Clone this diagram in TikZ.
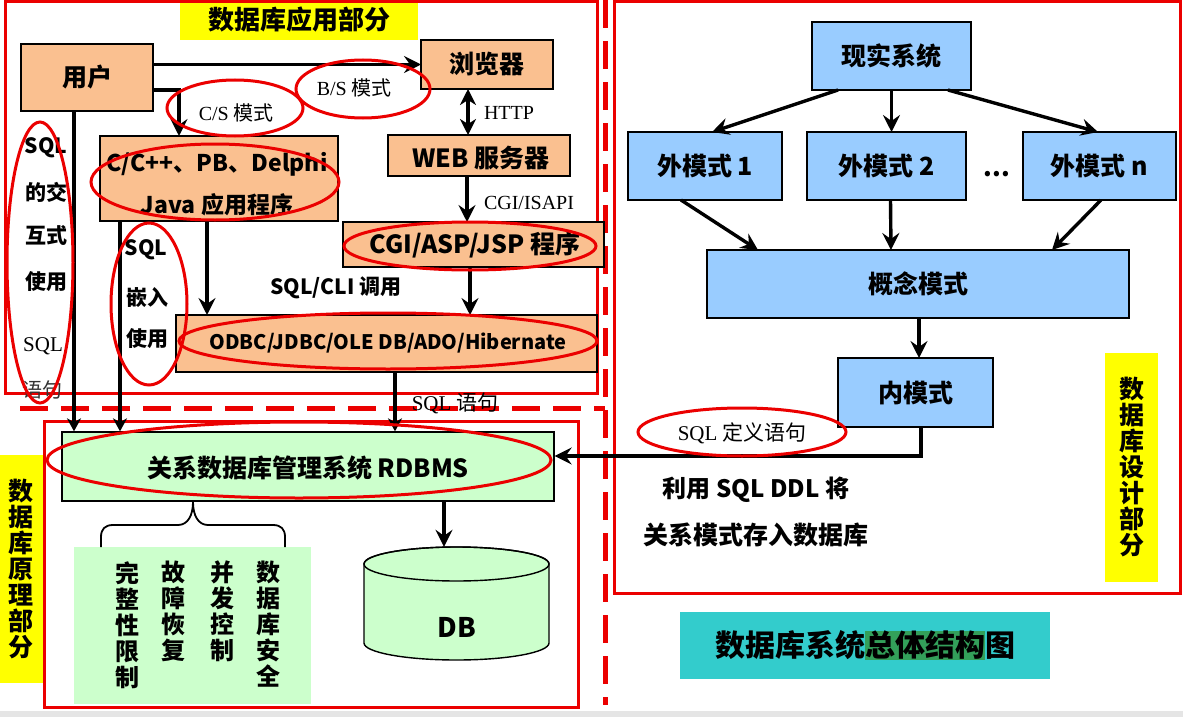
\documentclass[tikz,border=0pt]{standalone}
\usepackage{fontspec}
\setmainfont{Noto Sans CJK SC}
\newfontfamily\serifl{Liberation Serif}
\usetikzlibrary{arrows.meta,shapes.geometric}
\definecolor{peach}{RGB}{250,192,144}
\definecolor{lblue}{RGB}{153,204,255}
\definecolor{lgreen}{RGB}{204,255,204}
\definecolor{teal1}{RGB}{51,204,204}
\definecolor{hlgreen}{RGB}{51,160,90}
\definecolor{red1}{RGB}{235,0,0}
\definecolor{ylw}{RGB}{255,255,0}
\newcommand\myfs[2]{\fontsize{#1}{#2}\selectfont}
\tikzset{
  obox/.style={draw=black, line width=1.3pt, fill=peach, inner sep=0pt, outer sep=0pt, font=\bfseries\myfs{24}{29}},
  bbox/.style={draw=black, line width=1.5pt, fill=lblue, inner sep=0pt, outer sep=0pt, font=\bfseries\myfs{25}{30}},
  arr/.style={line width=3.4pt, -{Stealth[length=17pt,width=17pt,inset=6pt]}},
  sarr/.style={line width=3.2pt, -{Stealth[length=13pt,width=14pt,inset=4pt]}},
  darr/.style={line width=3.4pt, {Stealth[length=16pt,width=16pt,inset=5pt]}-{Stealth[length=16pt,width=16pt,inset=5pt]}},
  redell/.style={draw=red1, line width=3pt, ellipse, inner sep=0pt},
  redbox/.style={draw=red1, line width=3pt},
  ylab/.style={fill=ylw, inner sep=0pt, align=center, font=\bfseries\myfs{25}{26}},
  btxt/.style={inner sep=0pt, font=\bfseries\myfs{21}{24}},
  stxt/.style={inner sep=0pt, font=\myfs{20}{24}},
  coltxt/.style={inner sep=0pt, anchor=north, align=center, font=\bfseries\myfs{24}{26}},
}
\begin{document}
\begin{tikzpicture}[x=1pt,y=-1pt]
\useasboundingbox (0,0) rectangle (1183,717);
\fill[white] (0,0) rectangle (1183,717);
\fill[black!10] (0,711) rectangle (1183,717);

% section labels
\node[ylab, minimum width=238pt, minimum height=40pt, font=\bfseries\myfs{26}{30}] (ytop) at (299,20) {数据库应用部分};
\node[ylab, minimum width=43pt, minimum height=228pt] (yleft) at (21.5,569) {数\\据\\库\\原\\理\\部\\分};
\node[ylab, minimum width=53pt, minimum height=229pt] (yright) at (1131.5,467.5) {数\\据\\库\\设\\计\\部\\分};

% red frames and separators
\draw[redbox] (5,2) rectangle (597,393);
\draw[redbox] (44,421) rectangle (578,707);
\draw[redbox] (614,2) rectangle (1180,593);
\draw[red1, line width=5pt, dash pattern=on 28pt off 13pt] (605,0) -- (605,705);
\draw[red1, line width=5pt, dash pattern=on 28pt off 13pt] (20,408) -- (605,408);

% application boxes
\node[obox, minimum width=132pt, minimum height=67pt, font=\bfseries\myfs{25}{30}] (user) at (87,77.5) {用户};
\node[obox, minimum width=132pt, minimum height=49pt, font=\bfseries\myfs{25}{30}] (browser) at (487,64.5) {浏览器};
\node[obox, minimum width=182pt, minimum height=41pt] (web) at (479,155.5) {};
\node[btxt, font=\bfseries\myfs{25}{30}] (webtxt) at (481,158.5) {WEB 服务器};
\node[obox, minimum width=261pt, minimum height=45pt] (cgi) at (473.5,244.5) {};
\node[btxt, font=\bfseries\myfs{25}{30}] (cgitxt) at (475,245) {CGI/ASP/JSP 程序};
\node[obox, minimum width=238pt, minimum height=85pt] (cpp) at (219,178.5) {};
\node[btxt, align=center, font=\bfseries\myfs{23}{42}] (cpptxt) at (217,184) {C/C++、PB、Delphi\\Java 应用程序};
\node[obox, minimum width=421pt, minimum height=57pt] (odbc) at (386.5,343.5) {};
\node[btxt, font=\bfseries\myfs{20}{24}] (odbctxt) at (388,343) {ODBC/JDBC/OLE DB/ADO/Hibernate};

% principle part
\node[draw=black, line width=1.3pt, fill=lgreen, inner sep=0pt, minimum width=492pt, minimum height=69pt] (rdbms) at (308,466.5) {};
\node[btxt, font=\bfseries\myfs{25}{30}] (rdbmstxt) at (308,467.5) {关系数据库管理系统 RDBMS};
\node[fill=lgreen, inner sep=0pt, minimum width=237pt, minimum height=157pt] (list) at (192.5,625.5) {};
\node[coltxt] (c1) at (127,561) {完\\整\\性\\限\\制};
\node[coltxt] (c2) at (173,561) {故\\障\\恢\\复};
\node[coltxt] (c3) at (222,561) {并\\发\\控\\制};
\node[coltxt] (c4) at (268,561) {数\\据\\库\\安\\全};
\draw[line width=1.8pt] (101,547) -- (101,537) .. controls (101,529) and (105,525) .. (113,525) -- (178,525) .. controls (188,525) and (193,515) .. (193,502) .. controls (193,515) and (198,525) .. (208,525) -- (273,525) .. controls (281,525) and (285,529) .. (285,537) -- (285,547);

% DB cylinder
\node[inner sep=0pt, minimum width=185pt, minimum height=113pt] (db) at (456.5,603.5) {};
\draw[line width=1.4pt, fill=lgreen] (364,564) -- (364,643) arc[start angle=180, end angle=360, x radius=92.5pt, y radius=17pt] -- (549,564) arc[start angle=0, end angle=180, x radius=92.5pt, y radius=17pt] -- cycle;
\draw[line width=1.4pt] (456.5,564) ellipse[x radius=92.5pt, y radius=17pt];
\node[btxt, font=\bfseries\myfs{27}{30}] (dbtxt) at (457,627) {DB};

% design part
\node[bbox, minimum width=159pt, minimum height=68pt] (real) at (891.5,56) {现实系统};
\node[bbox, minimum width=154pt, minimum height=68pt] (ext1) at (705,166) {外模式 1};
\node[bbox, minimum width=159pt, minimum height=68pt] (ext2) at (886.5,166) {外模式 2};
\node[bbox, minimum width=153pt, minimum height=68pt] (extn) at (1099.5,166) {外模式 n};
\node[btxt, anchor=base, font=\bfseries\myfs{25}{30}] (dots) at (997,176) {...};
\node[bbox, minimum width=422pt, minimum height=68pt] (concept) at (918,284) {概念模式};
\node[bbox, minimum width=155pt, minimum height=69pt] (inner) at (915.5,392.5) {内模式};
\node[btxt, font=\bfseries\myfs{24}{28}] (ddl1) at (756,490) {利用 SQL DDL 将};
\node[btxt, font=\bfseries\myfs{25}{28}] (ddl2) at (756,535) {关系模式存入数据库};

% title
\node[fill=teal1, inner sep=0pt, minimum width=370pt, minimum height=67pt, font=\bfseries\myfs{30}{34}] (title) at (865,645.5) {数据库系统{\setlength\fboxsep{0pt}\colorbox{hlgreen}{总体结构}}图};

% arrows: application part
\draw[arr] (user.east |- browser.west) -- (browser.west);
\draw[arr] ([yshift=-12.5pt]user.east) -| ([xshift=-40pt]cpp.north);
\draw[darr] ([xshift=-19pt]browser.south) -- ([xshift=-11pt]web.north);
\draw[arr] ([xshift=-12pt]web.south) -- ([xshift=-6.5pt]cgi.north);
\draw[arr] ([xshift=-3.5pt]cgi.south) -- ([xshift=83.5pt]odbc.north);
\draw[arr] ([xshift=-12pt]cpp.south) -- ([xshift=-179.5pt]odbc.north);
\draw[sarr] ([xshift=-13pt]user.south) -- ([xshift=-234pt]rdbms.north);
\draw[sarr] ([xshift=-99pt]cpp.south) -- ([xshift=-188pt]rdbms.north);
\draw[sarr] ([xshift=8.5pt]odbc.south) -- ([xshift=87pt]rdbms.north);
\draw[arr] ([xshift=136pt]rdbms.south) -- ([xshift=-12.5pt]db.north);

% arrows: design part
\draw[arr] ([xshift=-53.5pt]real.south) -- ([xshift=7pt]ext1.north);
\draw[arr] (real.south) -- (real.south |- ext2.north);
\draw[arr] ([xshift=56.5pt]real.south) -- ([xshift=-1.5pt]extn.north);
\draw[arr] ([xshift=-24pt]ext1.south) -- ([xshift=-160pt]concept.north);
\draw[arr] ([xshift=4pt]ext2.south) -- ([xshift=-27pt]concept.north);
\draw[arr] ([xshift=1.5pt]extn.south) -- ([xshift=134pt]concept.north);
\draw[arr] ([xshift=1pt]concept.south) -- ([xshift=3.5pt]inner.north);
\draw[arr] ([xshift=5.5pt]inner.south) |- ([yshift=10.5pt]rdbms.east);

% connector labels
\node[stxt] (bslab) at (354,88) {{\serifl B/S} 模式};
\node[stxt] (cslab) at (236,113) {{\serifl C/S} 模式};
\node[stxt, font=\serifl\myfs{20}{24}] (httplab) at (509,113) {HTTP};
\node[stxt, font=\serifl\myfs{20}{24}] (isapilab) at (529,203) {CGI/ISAPI};
\node[btxt] (clilab) at (336,288) {SQL/CLI 调用};
\node[stxt, font=\myfs{21}{24}] (sqllab) at (455,403) {{\serifl SQL} 语句};
\node[stxt, font=\myfs{21}{24}] (sqldef) at (742,433) {{\serifl SQL} 定义语句};

% left column texts
\node[btxt] (l1) at (46,148) {SQL};
\node[btxt] (l2) at (46,192) {的交};
\node[btxt] (l3) at (46,235) {互式};
\node[btxt] (l4) at (46,282) {使用};
\node[stxt, font=\serifl\myfs{21}{24}] (l5) at (43,346) {SQL};
\node[stxt, font=\myfs{20}{24}, text=black!80] (l6) at (43,390) {语句};
\node[btxt] (m1) at (146,250) {SQL};
\node[btxt] (m2) at (147,297) {嵌入};
\node[btxt] (m3) at (147,339) {使用};

% red ellipses
\node[redell, minimum width=134pt, minimum height=58pt] (bsell) at (363,89) {};
\node[redell, minimum width=136pt, minimum height=56pt] (csell) at (235,108) {};
\node[redell, minimum width=248pt, minimum height=76pt] (cppell) at (215,182) {};
\node[redell, minimum width=66pt, minimum height=281pt] (interell) at (40,262.5) {};
\node[redell, minimum width=76pt, minimum height=162pt] (embell) at (149,304) {};
\node[redell, minimum width=252pt, minimum height=48pt] (cgiell) at (470,246) {};
\node[redell, minimum width=418pt, minimum height=56pt] (odbcell) at (388,341) {};
\node[redell, minimum width=504pt, minimum height=76pt] (rdbmsell) at (299,460) {};
\node[redell, minimum width=208pt, minimum height=48pt] (sqldefell) at (742,432) {};
\end{tikzpicture}
\end{document}
